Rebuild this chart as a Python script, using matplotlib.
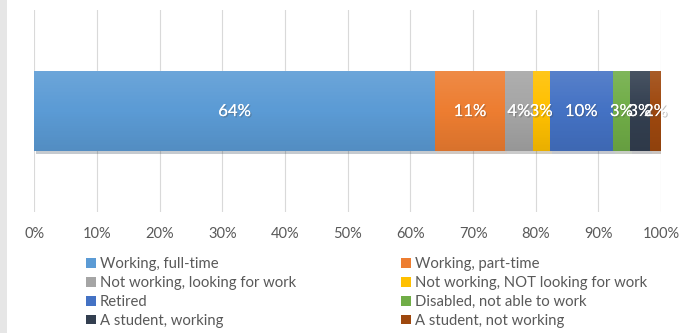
import numpy as np
import matplotlib.pyplot as plt
import matplotlib.patheffects as pe
from matplotlib.patches import Rectangle, Patch

plt.rcParams['font.family'] = ['Lato', 'DejaVu Sans']

# employment status shares (percent of respondents)
categories = ['Working, full-time', 'Working, part-time',
              'Not working, looking for work', 'Not working, NOT looking for work',
              'Retired', 'Disabled, not able to work',
              'A student, working', 'A student, not working']
shares = [63.9, 11.2, 4.4, 2.7, 10.1, 2.7, 3.2, 1.8]
colors = ['#5B9BD5', '#ED7D31', '#A5A5A5', '#FFC000',
          '#4472C4', '#70AD47', '#333F50', '#9E480E']
tick_labels = ['0%', '10%', '20%', '30%', '40%', '50%',
               '60%', '70%', '80%', '90%', '100%']

fig = plt.figure(figsize=(6.83, 3.33), dpi=100)
ax = fig.add_axes([0.0502, 0.363, 0.9178, 0.607])

# panel edge on the left
fig.patches.append(Rectangle((0, 0), 7 / 683, 1, transform=fig.transFigure,
                             facecolor='#e6e6e6', edgecolor='none', zorder=0))

bar_h = 0.4
left = 0
for val, col in zip(shares, colors):
    bar = ax.barh(0, val / 100, left=left, height=bar_h, color=col, zorder=3)
    for b in bar:
        b.set_path_effects([pe.withSimplePatchShadow(offset=(1.5, -1.5), alpha=0.25),
                            pe.Normal()])
    ax.text(left + val / 200, 0, '{:.0f}%'.format(val), ha='center', va='center',
            color='white', fontsize=12, zorder=5,
            path_effects=[pe.withSimplePatchShadow(offset=(1, -1), alpha=0.35),
                          pe.Normal()])
    left += val / 100

# soft top-to-bottom shading across the whole bar
shade = np.zeros((64, 1, 4))
t = np.linspace(0, 1, 64)
shade[:, 0, :3] = np.where(t < 0.5, 1.0, 0.0)[:, None]
shade[:, 0, 3] = np.abs(t - 0.5) * np.where(t < 0.5, 0.22, 0.18)
ax.imshow(shade, extent=(0, left, -bar_h / 2, bar_h / 2), aspect='auto',
          origin='upper', zorder=4, interpolation='bilinear')

ax.set_xlim(0, 1)
ax.set_ylim(-0.5, 0.5)
ax.set_xticks([i / 10 for i in range(11)])
ax.set_xticklabels(tick_labels, color='#595959', fontsize=10.5)
ax.tick_params(axis='x', length=0, pad=11)
ax.set_yticks([])
ax.grid(axis='x', color='#d9d9d9', linewidth=0.8, zorder=0)
for s in ax.spines.values():
    s.set_visible(False)

# legend in two columns, filled row by row
handles = [Patch(facecolor=c, edgecolor='none') for c in colors]
for col, x in ((0, 86 / 683), (1, 401 / 683)):
    idx = range(col, len(categories), 2)
    fig.legend([handles[i] for i in idx], [categories[i] for i in idx],
               loc='upper left', bbox_to_anchor=(x, 1 - 257 / 333), frameon=False,
               fontsize=10.7, labelcolor='#595959', handlelength=0.65,
               handleheight=0.65, handletextpad=0.3, labelspacing=0.33,
               borderpad=0, borderaxespad=0)

fig.savefig('out.png', dpi=100)
